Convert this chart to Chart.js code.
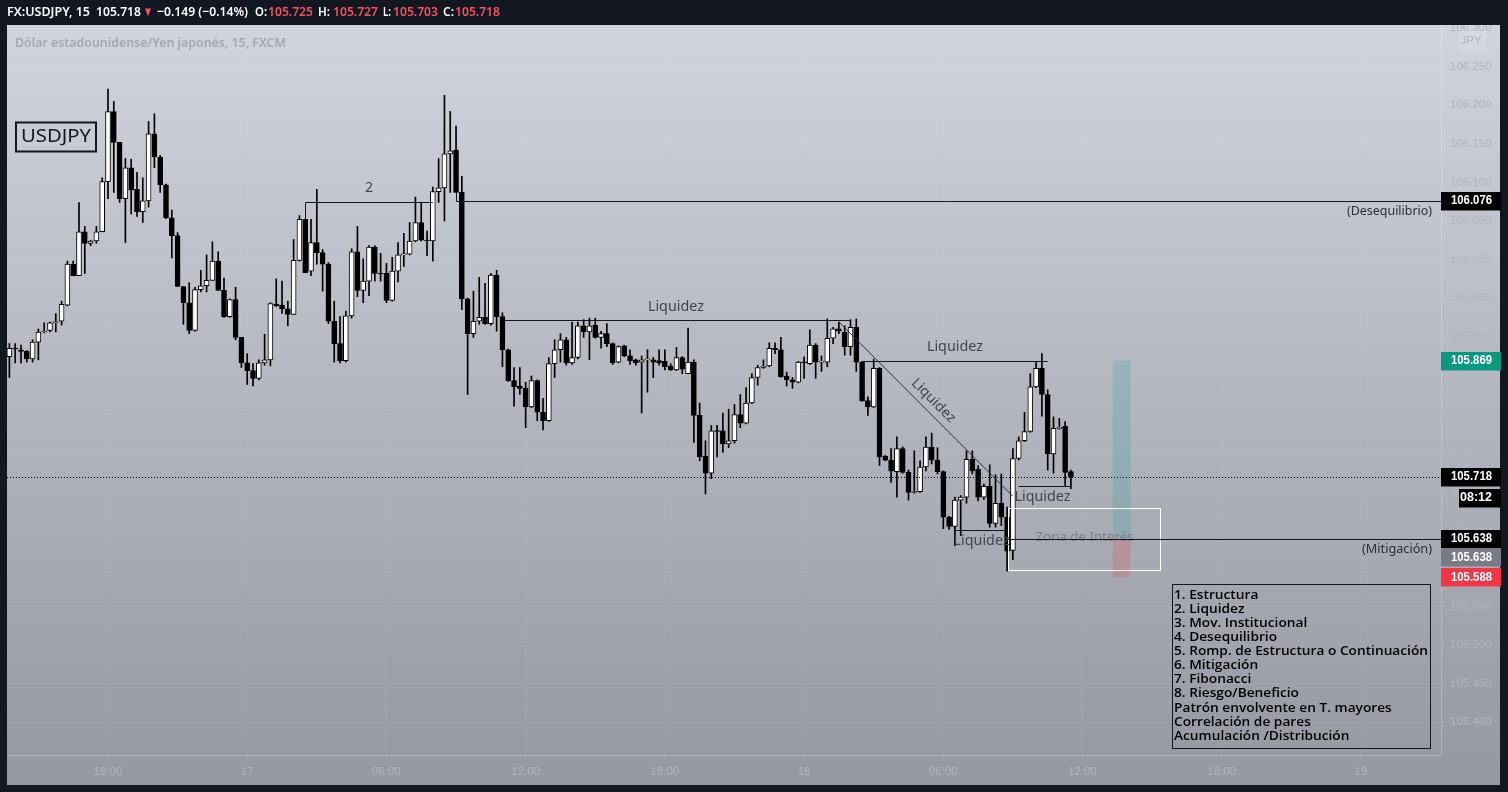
<!DOCTYPE html>
<html>
<head>
<meta charset="utf-8">
<script src="https://cdn.jsdelivr.net/npm/chart.js@4.4.0/dist/chart.umd.min.js"></script>
<style>
    html, body { margin: 0; padding: 0; background: #131722; overflow: hidden; }
    #c { display: block; }
</style>
</head>
<body>
<canvas id="c" width="1508" height="792"></canvas>
<script>
// ---- data (USDJPY, 15m, FXCM) ----
const candleOpen = [
    105.874,105.885,105.883,105.881,105.871,105.893,105.906,105.908,105.918,105.920,
    105.941,105.994,105.979,106.036,106.021,106.024,106.036,106.101,106.192,106.152,
    106.079,106.119,106.091,106.062,106.076,106.163,106.133,106.097,106.054,106.031,
    105.965,105.944,105.908,105.961,105.966,105.973,105.998,105.960,105.926,105.948,
    105.899,105.866,105.856,105.846,105.866,105.870,105.942,105.941,105.936,105.929,
    105.999,106.052,105.985,106.022,106.009,105.994,105.920,105.891,105.869,105.927,
    106.010,105.960,105.972,106.016,105.982,105.982,105.947,105.985,106.006,106.007,
    106.024,106.048,106.025,106.024,106.088,106.093,106.137,106.142,106.087,105.949,
    105.904,105.920,105.925,105.917,105.980,105.926,105.883,105.843,105.836,105.833,
    105.809,105.843,105.802,105.791,105.865,105.883,105.896,105.866,105.873,105.914,
    105.906,105.915,105.899,105.904,105.891,105.867,105.888,105.875,105.870,105.867,
    105.870,105.870,105.869,105.868,105.862,105.857,105.873,105.852,105.867,105.798,
    105.745,105.723,105.778,105.778,105.761,105.765,105.799,105.788,105.814,105.847,
    105.860,105.862,105.885,105.883,105.849,105.844,105.841,105.867,105.865,105.889,
    105.867,105.867,105.898,105.910,105.906,105.887,105.912,105.867,105.817,105.809,
    105.859,105.745,105.740,105.725,105.755,105.724,105.698,105.699,105.731,105.757,
    105.740,105.725,105.666,105.654,105.688,105.692,105.741,105.728,105.692,105.706,
    105.658,105.684,105.666,105.623,105.742,105.765,105.777,105.835,105.859,105.825,
    105.748,105.781,105.784,105.725
];
const candleHigh = [
    105.891,105.891,105.889,105.882,105.896,105.910,105.918,105.919,105.930,105.946,
    105.998,105.998,106.074,106.043,106.025,106.043,106.106,106.221,106.205,106.152,
    106.131,106.130,106.113,106.106,106.179,106.189,106.135,106.098,106.064,106.035,
    105.965,105.970,105.964,105.986,106.006,106.023,106.010,105.976,105.949,105.964,
    105.899,105.878,105.865,105.870,105.903,105.944,105.975,105.972,105.946,106.026,
    106.057,106.052,106.052,106.091,106.013,105.996,105.946,105.926,105.933,106.014,
    106.043,106.001,106.018,106.018,106.008,105.995,106.003,106.022,106.034,106.048,
    106.081,106.073,106.037,106.094,106.131,106.213,106.192,106.173,106.108,105.950,
    105.959,105.977,105.969,105.982,105.986,105.931,105.884,105.860,105.860,105.841,
    105.849,105.844,105.820,105.873,105.896,105.904,105.899,105.919,105.919,105.922,
    105.924,105.924,105.907,105.917,105.892,105.888,105.889,105.883,105.871,105.875,
    105.883,105.873,105.883,105.883,105.865,105.886,105.874,105.911,105.870,105.814,
    105.765,105.785,105.785,105.801,105.806,105.812,105.825,105.834,105.852,105.863,
    105.870,105.892,105.892,105.899,105.854,105.847,105.868,105.874,105.909,105.891,
    105.875,105.923,105.912,105.919,105.914,105.922,105.923,105.868,105.822,105.871,
    105.860,105.746,105.755,105.770,105.757,105.727,105.752,105.739,105.770,105.775,
    105.756,105.726,105.667,105.692,105.694,105.752,105.752,105.733,105.709,105.734,
    105.721,105.722,105.679,105.755,105.770,105.802,105.852,105.868,105.878,105.831,
    105.796,105.794,105.790,105.727
];
const candleLow = [
    105.847,105.866,105.866,105.867,105.867,105.870,105.905,105.906,105.906,105.915,
    105.940,105.979,105.979,105.982,106.018,106.021,106.036,106.079,106.087,106.074,
    106.022,106.059,106.056,106.048,106.068,106.119,106.087,106.053,106.002,105.965,
    105.916,105.904,105.907,105.958,105.958,105.973,105.960,105.925,105.925,105.896,
    105.860,105.838,105.836,105.844,105.863,105.862,105.939,105.930,105.914,105.929,
    105.998,105.983,105.979,105.994,105.959,105.917,105.867,105.866,105.867,105.924,
    105.952,105.944,105.953,105.972,105.972,105.944,105.946,105.971,105.991,106.006,
    106.023,106.024,106.005,105.998,106.074,106.050,106.087,106.087,105.935,105.825,
    105.899,105.916,105.916,105.915,105.907,105.861,105.842,105.810,105.825,105.782,
    105.808,105.791,105.779,105.790,105.847,105.867,105.863,105.864,105.871,105.899,
    105.870,105.898,105.885,105.887,105.864,105.866,105.874,105.864,105.863,105.801,
    105.828,105.847,105.863,105.857,105.856,105.856,105.852,105.852,105.763,105.739,
    105.696,105.716,105.744,105.750,105.756,105.762,105.782,105.787,105.813,105.837,
    105.859,105.861,105.878,105.847,105.836,105.833,105.840,105.846,105.864,105.846,
    105.855,105.861,105.891,105.904,105.876,105.876,105.855,105.816,105.798,105.808,
    105.733,105.739,105.711,105.692,105.723,105.688,105.697,105.698,105.726,105.735,
    105.722,105.651,105.650,105.629,105.642,105.684,105.722,105.687,105.689,105.653,
    105.653,105.655,105.596,105.611,105.740,105.764,105.776,105.834,105.797,105.727,
    105.723,105.780,105.707,105.703
];
const candleClose = [
    105.885,105.884,105.881,105.871,105.893,105.906,105.907,105.918,105.919,105.942,
    105.994,105.979,106.036,106.021,106.024,106.036,106.101,106.192,106.152,106.079,
    106.119,106.090,106.062,106.076,106.163,106.133,106.097,106.054,106.031,105.965,
    105.944,105.908,105.961,105.966,105.973,105.998,105.960,105.926,105.948,105.899,
    105.866,105.856,105.846,105.866,105.870,105.943,105.940,105.936,105.929,105.999,
    106.052,105.983,106.022,106.009,105.994,105.920,105.891,105.869,105.927,106.010,
    105.960,105.972,106.016,105.982,105.981,105.947,105.985,106.006,106.007,106.024,
    106.048,106.025,106.024,106.088,106.093,106.137,106.141,106.087,105.949,105.904,
    105.920,105.925,105.917,105.980,105.926,105.883,105.843,105.835,105.833,105.809,
    105.843,105.802,105.791,105.865,105.883,105.896,105.866,105.873,105.914,105.906,
    105.914,105.899,105.904,105.891,105.866,105.887,105.875,105.869,105.866,105.870,
    105.871,105.867,105.866,105.861,105.857,105.873,105.858,105.867,105.798,105.744,
    105.723,105.778,105.777,105.761,105.765,105.799,105.788,105.814,105.847,105.860,
    105.862,105.885,105.883,105.848,105.844,105.841,105.867,105.866,105.889,105.867,
    105.868,105.898,105.910,105.907,105.887,105.912,105.867,105.817,105.809,105.859,
    105.744,105.740,105.726,105.755,105.724,105.698,105.699,105.731,105.757,105.740,
    105.725,105.666,105.654,105.688,105.692,105.741,105.726,105.692,105.706,105.658,
    105.684,105.666,105.622,105.742,105.765,105.777,105.835,105.859,105.825,105.748,
    105.781,105.782,105.724,105.718
];

// bar index of each time label (bar 0 = 16th 13:45, 15 min per bar)
const timeTickIndex = [17, 41, 65, 89, 113, 137, 161, 185, 209, 233];
const timeTickLabels = ['18:00', '17', '06:00', '12:00', '18:00', '18', '06:00', '12:00', '18:00', '19'];
const priceTicks = [105.40, 105.45, 105.50, 105.55, 105.60, 105.65, 105.70, 105.75, 105.80, 105.85,
                    105.90, 105.95, 106.00, 106.05, 106.10, 106.15, 106.20, 106.25, 106.30];

// drawings: [fromBar, toBar, price]
const liquidityLevels = [[85, 145, 105.921], [147, 179, 105.869], [174, 183, 105.707], [163, 172, 105.649]];
const liquidityTrend = [[143, 105.919], [173, 105.693]];
// label anchors: [bar, price]
const liquidityLabels = [[114.9, 105.938], [163.0, 105.887], [178.1, 105.692], [167.6, 105.635]];
const trendLabel = [159.3, 105.817];
const swingLevel = [51, 73, 106.075, 106.052];   // from, to, price, anchor (bar high)
const swingLabel = [62.0, 106.093];
const imbalanceLevel = [77, 106.076, 106.087];   // from, price, anchor
const mitigationLevel = [172.2, 105.638];
const interestZone = [172.2, 198.3, 105.678, 105.597];
const positionBars = [190.2, 193.3];
const targetPrice = 105.869, entryPrice = 105.638, stopPrice = 105.588;
const lastPrice = 105.718;
const lastBar = {open: 105.725, high: 105.727, low: 105.703, close: 105.718, change: -0.149, changePct: -0.14};

const checklist = [
    '1. Estructura', '2. Liquidez', '3. Mov. Institucional', '4. Desequilibrio',
    '5. Romp. de Estructura o Continuación', '6. Mitigación', '7. Fibonacci',
    '8. Riesgo/Beneficio', 'Patrón envolvente en T. mayores', 'Correlación de pares',
    'Acumulación /Distribución'
];

// ---- chart ----
const bodies = candleOpen.map((o, i) => ({x: i, y: [o, candleClose[i]]}));
const wicks = candleLow.map((l, i) => ({x: i, y: [l, candleHigh[i]]}));
const bodyFill = candleOpen.map((o, i) => candleClose[i] >= o ? '#ffffff' : '#000000');

const UP = '#f7525f';
const INK = '#131722';

// squeeze text to a given width
function fitText(c, text, x, y, w, align) {
    let m = c.measureText(text).width;
    c.save();
    c.translate(x, y);
    c.scale(w / m, 1);
    c.textAlign = align || 'left';
    c.fillText(text, 0, 0);
    c.restore();
}

function path(c, pts) {
    c.beginPath();
    pts.forEach((p, k) => k ? c.lineTo(p[0], p[1]) : c.moveTo(p[0], p[1]));
    c.stroke();
}

const paneBackground = {
    id: 'paneBackground',
    beforeDraw(chart) {
        let c = chart.ctx, a = chart.chartArea;
        let right = a.right + chart.scales.y.width, bottom = a.bottom + chart.scales.x.height;
        c.save();
        c.fillStyle = INK;
        c.fillRect(0, 0, chart.width, chart.height);
        let g = c.createLinearGradient(0, a.top, 0, bottom);
        g.addColorStop(0, '#d1d4dc');
        g.addColorStop(1, '#9598a1');
        c.fillStyle = g;
        c.fillRect(a.left, a.top, right - a.left, bottom - a.top);
        // faint currency box at top of the price axis
        c.fillStyle = 'rgba(255,255,255,0.12)';
        c.fillRect(a.right + 18, a.top, 27, 27);
        c.restore();
    }
};

const overlay = {
    id: 'overlay',
    afterDraw(chart) {
        let c = chart.ctx, a = chart.chartArea;
        let X = v => chart.scales.x.getPixelForValue(v);
        let Y = v => chart.scales.y.getPixelForValue(v);
        let h = v => Math.round(v) + 0.5; // crisp 1px

        c.save();
        c.beginPath();
        c.rect(a.left, a.top, a.right - a.left, a.bottom - a.top);
        c.clip();

        // last price, dotted
        c.strokeStyle = '#000';
        c.lineWidth = 1;
        c.setLineDash([1, 2]);
        path(c, [[a.left, h(Y(lastPrice))], [a.right, h(Y(lastPrice))]]);
        c.setLineDash([]);

        // long position tool
        let px0 = X(positionBars[0]), px1 = X(positionBars[1]);
        c.fillStyle = 'rgba(38,166,154,0.22)';
        c.fillRect(px0, Y(targetPrice), px1 - px0, Y(entryPrice) - Y(targetPrice));
        c.fillStyle = 'rgba(242,54,69,0.2)';
        c.fillRect(px0, Y(entryPrice), px1 - px0, Y(stopPrice) - Y(entryPrice));

        // zone of interest
        c.strokeStyle = '#ffffff';
        let zx0 = h(X(interestZone[0])), zx1 = h(X(interestZone[1]));
        let zy0 = h(Y(interestZone[2])), zy1 = h(Y(interestZone[3]));
        c.strokeRect(zx0, zy0, zx1 - zx0, zy1 - zy0);
        c.fillStyle = '#7e818b';
        c.font = '13px "Noto Sans"';
        c.textBaseline = 'middle';
        fitText(c, 'Zona de Interés', (zx0 + zx1) / 2, Y(mitigationLevel[1]) - 1, 98, 'center');

        // horizontal levels
        c.strokeStyle = INK;
        path(c, [[h(X(swingLevel[0])), Y(swingLevel[3])], [h(X(swingLevel[0])), h(Y(swingLevel[2]))], [X(swingLevel[1]), h(Y(swingLevel[2]))]]);
        path(c, [[h(X(imbalanceLevel[0])), Y(imbalanceLevel[2])], [h(X(imbalanceLevel[0])), h(Y(imbalanceLevel[1]))], [a.right, h(Y(imbalanceLevel[1]))]]);
        path(c, [[X(mitigationLevel[0]), h(Y(mitigationLevel[1]))], [a.right, h(Y(mitigationLevel[1]))]]);
        liquidityLevels.forEach(l => path(c, [[X(l[0]), h(Y(l[2]))], [X(l[1]), h(Y(l[2]))]]));

        // trend line
        c.strokeStyle = '#2f323c';
        let t0 = [X(liquidityTrend[0][0]), Y(liquidityTrend[0][1])];
        let t1 = [X(liquidityTrend[1][0]), Y(liquidityTrend[1][1])];
        path(c, [t0, t1]);

        // labels
        c.fillStyle = '#434651';
        c.font = '14px "Noto Sans"';
        liquidityLabels.forEach(l => fitText(c, 'Liquidez', X(l[0]), Y(l[1]), 56, 'center'));
        c.save();
        c.translate(X(trendLabel[0]), Y(trendLabel[1]));
        c.rotate(Math.atan2(t1[1] - t0[1], t1[0] - t0[0]));
        fitText(c, 'Liquidez', 0, 0, 56, 'center');
        c.restore();
        fitText(c, '2', X(swingLabel[0]), Y(swingLabel[1]), 8, 'center');

        c.fillStyle = '#2a2e39';
        c.font = '12px "Noto Sans"';
        fitText(c, '(Desequilibrio)', a.right - 9, Y(imbalanceLevel[1]) + 11, 85, 'right');
        fitText(c, '(Mitigación)', a.right - 9, Y(mitigationLevel[1]) + 11, 70, 'right');
        c.restore();

        // symbol box
        c.save();
        c.strokeStyle = INK;
        c.lineWidth = 2;
        c.strokeRect(16, 122.5, 80, 29);
        c.fillStyle = INK;
        c.font = '18px "Noto Sans"';
        c.textBaseline = 'middle';
        fitText(c, 'USDJPY', 56, 137, 70, 'center');

        // checklist box
        c.lineWidth = 1;
        c.strokeRect(1172.5, 584.5, 258, 164);
        c.fillStyle = '#000000';
        c.font = '600 13px "Open Sans"';
        let widest = Math.max(...checklist.map(s => c.measureText(s).width));
        let sx = 254 / widest;
        checklist.forEach((s, k) => fitText(c, s, 1174, 595 + k * 14.1, c.measureText(s).width * sx));

        // subtitle
        c.fillStyle = '#a4a7b0';
        c.font = '600 13px "Noto Sans"';
        fitText(c, 'Dólar estadounidense/Yen japonés, 15, FXCM', 15, 43, 271);

        // price axis tags
        let tag = (txt, y, bg, x0, w) => {
            c.fillStyle = bg;
            c.fillRect(x0, Math.round(y - 9), w, 18.5);
            c.fillStyle = '#ffffff';
            c.font = 'bold 12px "Liberation Sans"';
            fitText(c, txt, x0 + w - 9, y, txt.length > 5 ? 41 : 32, 'right');
        };
        let ax = a.right;
        tag(imbalanceLevel[1].toFixed(3), Y(imbalanceLevel[1]), '#000000', ax, 60);
        tag(targetPrice.toFixed(3), Y(targetPrice), '#089981', ax, 60);
        tag(lastPrice.toFixed(3), Y(lastPrice), '#000000', ax, 60);
        tag('08:12', Y(lastPrice) + 20.5, '#000000', ax + 18, 42);
        tag(entryPrice.toFixed(3), Y(entryPrice), '#000000', ax, 60);
        tag(entryPrice.toFixed(3), Y(entryPrice) + 18.7, '#787b86', ax, 60);
        tag(stopPrice.toFixed(3), Y(stopPrice), '#f23645', ax, 60);

        c.fillStyle = '#b2b5be';
        c.font = '11.5px "Liberation Sans"';
        c.textAlign = 'center';
        c.fillText('JPY', ax + 30, 41);

        // header bar
        c.fillStyle = INK;
        c.fillRect(0, 0, chart.width, a.top);
        c.font = '600 13px "Noto Sans"';
        c.fillStyle = '#ffffff';
        let hy = 12;
        fitText(c, 'FX:USDJPY, 15', 7, hy, 83);
        fitText(c, lastBar.close.toFixed(3), 96, hy, 45);
        fitText(c, '−' + Math.abs(lastBar.change).toFixed(3) + ' (−' + Math.abs(lastBar.changePct).toFixed(2) + '%)', 157, hy, 91);
        fitText(c, 'O:', 255, hy, 12);
        fitText(c, 'H:', 318, hy, 12);
        fitText(c, 'L:', 383, hy, 8);
        fitText(c, 'C:', 443, hy, 11);
        c.fillStyle = UP;
        fitText(c, '▼', 143, hy, 10);
        fitText(c, lastBar.open.toFixed(3), 268, hy, 45);
        fitText(c, lastBar.high.toFixed(3), 333, hy, 45);
        fitText(c, lastBar.low.toFixed(3), 393, hy, 45);
        fitText(c, lastBar.close.toFixed(3), 455, hy, 45);
        c.restore();
    }
};

new Chart(document.getElementById('c'), {
    type: 'bar',
    data: {
        datasets: [
            {
                data: wicks, backgroundColor: '#000000', borderWidth: 0,
                barThickness: 1, maxBarThickness: 1, grouped: false, order: 2
            },
            {
                data: bodies, backgroundColor: bodyFill, borderColor: '#000000', borderWidth: 1,
                borderSkipped: false, barThickness: 5, maxBarThickness: 5, minBarLength: 1,
                grouped: false, order: 1
            }
        ]
    },
    options: {
        responsive: false,
        animation: false,
        devicePixelRatio: 1,
        layout: {padding: {left: 7, top: 25, right: 8, bottom: 7}},
        plugins: {legend: {display: false}, tooltip: {enabled: false}},
        scales: {
            x: {
                type: 'linear', min: -0.41, max: 246.8, offset: false,
                afterBuildTicks: s => { s.ticks = timeTickIndex.map(v => ({value: v})); },
                afterFit: s => { s.height = 30; },
                grid: {color: 'rgba(255,255,255,0.045)', tickColor: 'rgba(255,255,255,0.2)', tickLength: 4, offset: false},
                border: {color: 'rgba(255,255,255,0.22)'},
                ticks: {
                    color: '#b2b5be', font: {family: 'Liberation Sans', size: 11.5}, padding: 6,
                    maxRotation: 0, autoSkip: false,
                    callback: v => timeTickLabels[timeTickIndex.indexOf(v)]
                }
            },
            y: {
                position: 'right', min: 105.3576, max: 106.3041,
                afterBuildTicks: s => { s.ticks = priceTicks.map(v => ({value: v})); },
                afterFit: s => { s.width = 59; },
                grid: {color: 'rgba(255,255,255,0.06)', tickColor: 'rgba(255,255,255,0.15)', tickLength: 4},
                border: {color: 'rgba(255,255,255,0.22)'},
                ticks: {
                    color: '#b2b5be', font: {family: 'Liberation Sans', size: 11.5}, padding: 5,
                    autoSkip: false, callback: v => v.toFixed(3)
                }
            }
        }
    },
    plugins: [paneBackground, overlay]
});
</script>
</body>
</html>
